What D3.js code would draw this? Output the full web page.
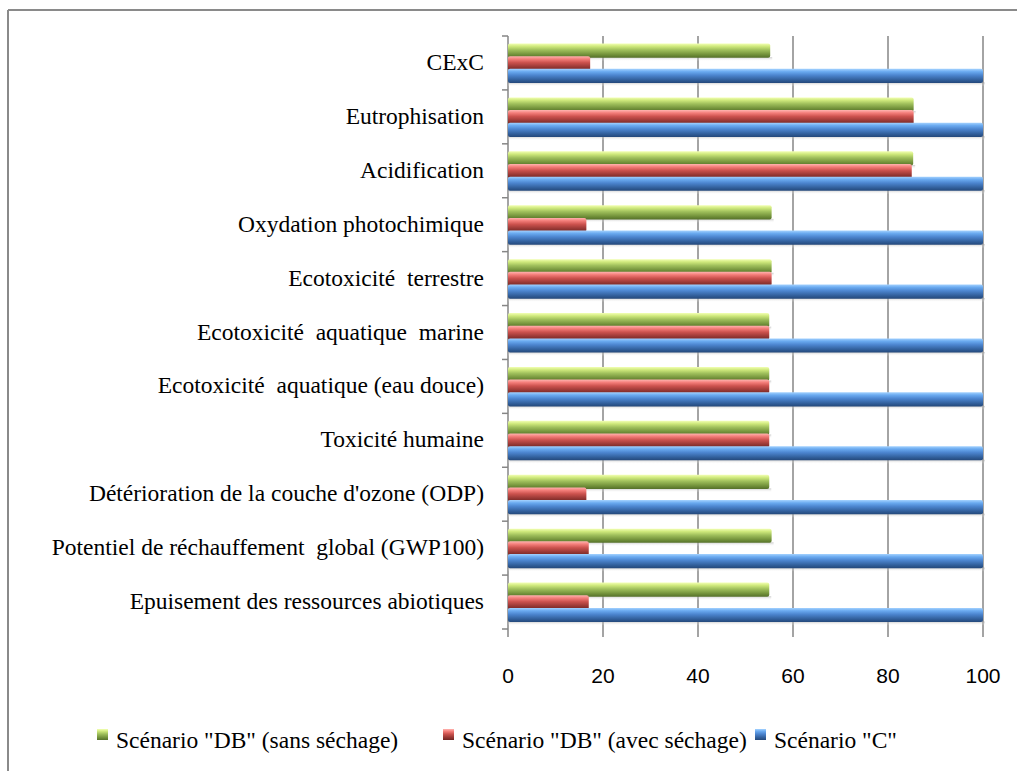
<!DOCTYPE html>
<html>
<head>
<meta charset="utf-8">
<script src="https://cdn.jsdelivr.net/npm/d3@7"></script>
<style>
  body { margin: 0; background: #fff; }
</style>
</head>
<body>
<div id="chart"></div>
<script>
// categories, top to bottom as in the picture
const categories = [
  "CExC",
  "Eutrophisation",
  "Acidification",
  "Oxydation photochimique",
  "Ecotoxicité  terrestre",
  "Ecotoxicité  aquatique  marine",
  "Ecotoxicité  aquatique (eau douce)",
  "Toxicité humaine",
  "Détérioration de la couche d'ozone (ODP)",
  "Potentiel de réchauffement  global (GWP100)",
  "Epuisement des ressources abiotiques",
];
const seriesNames = [
  'Scénario "DB" (sans séchage)',
  'Scénario "DB" (avec séchage)',
  'Scénario "C"',
];
const sansSechage = [55.2, 85.4, 85.3, 55.5, 55.5, 55, 55, 55, 55, 55.5, 55];
const avecSechage = [17.3, 85.4, 85, 16.5, 55.5, 55, 55, 55, 16.5, 17, 17];
const scenarioC = [100, 100, 100, 100, 100, 100, 100, 100, 100, 100, 100];
const xTicks = [0, 20, 40, 60, 80, 100];

const serif = '"Liberation Serif", "Times New Roman", serif';
const W = 1017, H = 771;
const svg = d3.select("#chart").append("svg").attr("width", W).attr("height", H);

// gradients for the cylinder look
const defs = svg.append("defs");
const palettes = [
  ["#f2ffb4", "#cfe97c", "#a0c05c", "#6f8e38", "#55702a"],
  ["#ffb4b0", "#f47e7a", "#cc524e", "#903431", "#6e2523"],
  ["#a4d2ff", "#6aaaf0", "#4c85cf", "#305d98", "#24487a"],
];
palettes.forEach((p, i) => {
  const g = defs.append("linearGradient").attr("id", "grad" + i)
    .attr("x1", 0).attr("y1", 0).attr("x2", 0).attr("y2", 1);
  [0, 0.2, 0.45, 0.8, 1].forEach((o, j) =>
    g.append("stop").attr("offset", o).attr("stop-color", p[j]));
});
const sh = defs.append("linearGradient").attr("id", "shadow")
  .attr("x1", 0).attr("y1", 0).attr("x2", 0).attr("y2", 1);
sh.append("stop").attr("offset", 0).attr("stop-color", "#aaa").attr("stop-opacity", 0.6);
sh.append("stop").attr("offset", 1).attr("stop-color", "#fff").attr("stop-opacity", 0);

// frame (top and left only)
svg.append("line").attr("x1", 8).attr("x2", W).attr("y1", 10).attr("y2", 10)
  .attr("stroke", "#8a8a8a").attr("stroke-width", 2);
svg.append("line").attr("x1", 8).attr("x2", 8).attr("y1", 10).attr("y2", H)
  .attr("stroke", "#8a8a8a").attr("stroke-width", 2);

const x = d3.scaleLinear().domain([0, 100]).range([508, 983]);
const y = d3.scaleBand().domain(categories).range([36, 629]);
const inner = d3.scaleBand().domain([0, 1, 2]).range([8, 46]);

// vertical gridlines
svg.append("g").selectAll("line").data(xTicks).join("line")
  .attr("x1", (d) => x(d)).attr("x2", (d) => x(d))
  .attr("y1", 36).attr("y2", 637)
  .attr("stroke", "#868686").attr("stroke-width", 1.5);

// left axis ticks at band edges
const edges = categories.map((c) => y(c)).concat([629]);
svg.append("g").selectAll("line").data(edges).join("line")
  .attr("x1", 502).attr("x2", 508).attr("y1", (d) => d).attr("y2", (d) => d)
  .attr("stroke", "#868686").attr("stroke-width", 1.5);

// category labels
svg.append("g").selectAll("text").data(categories).join("text")
  .attr("x", 484).attr("y", (d) => y(d) + y.bandwidth() / 2 - 1)
  .attr("text-anchor", "end").attr("dominant-baseline", "central")
  .style("font-family", serif)
  .style("font-size", "23.5px").style("white-space", "pre").attr("fill", "#000")
  .text((d) => d);

// bars
const series = [sansSechage, avecSechage, scenarioC];
const barH = inner.bandwidth() + 1.5;
series.forEach((vals, s) => {
  const g = svg.append("g");
  const data = categories.map((c, i) => ({ c, v: vals[i] }));
  // soft shadow under each bar
  g.selectAll("rect.sh").data(data).join("rect").attr("class", "sh")
    .attr("x", x(0)).attr("y", (d) => y(d.c) + inner(s) + barH - 1)
    .attr("width", (d) => x(d.v) - x(0) + 2).attr("height", 4)
    .attr("fill", "url(#shadow)");
  g.selectAll("rect.bar").data(data).join("rect").attr("class", "bar")
    .attr("x", x(0)).attr("y", (d) => y(d.c) + inner(s) - 0.5)
    .attr("width", (d) => x(d.v) - x(0)).attr("height", barH)
    .attr("rx", 2).attr("fill", "url(#grad" + s + ")");
});

// x tick labels
svg.append("g").selectAll("text").data(xTicks).join("text")
  .attr("x", (d) => x(d)).attr("y", 675)
  .attr("text-anchor", "middle").attr("dominant-baseline", "central")
  .style("font-family", "'Liberation Sans', Arial, sans-serif")
  .style("font-size", "21px").attr("fill", "#000")
  .text((d) => d);

// legend
const legendX = [97, 443, 755];
const leg = svg.append("g").selectAll("g").data(seriesNames).join("g")
  .attr("transform", (d, i) => `translate(${legendX[i]}, 0)`);
leg.append("rect").attr("x", 0).attr("y", 729).attr("width", 11).attr("height", 11)
  .attr("fill", (d, i) => `url(#grad${i})`);
leg.append("text").attr("x", 19).attr("y", 748)
  .style("font-family", serif)
  .style("font-size", "23.5px").attr("fill", "#000")
  .text((d) => d);
</script>
</body>
</html>
